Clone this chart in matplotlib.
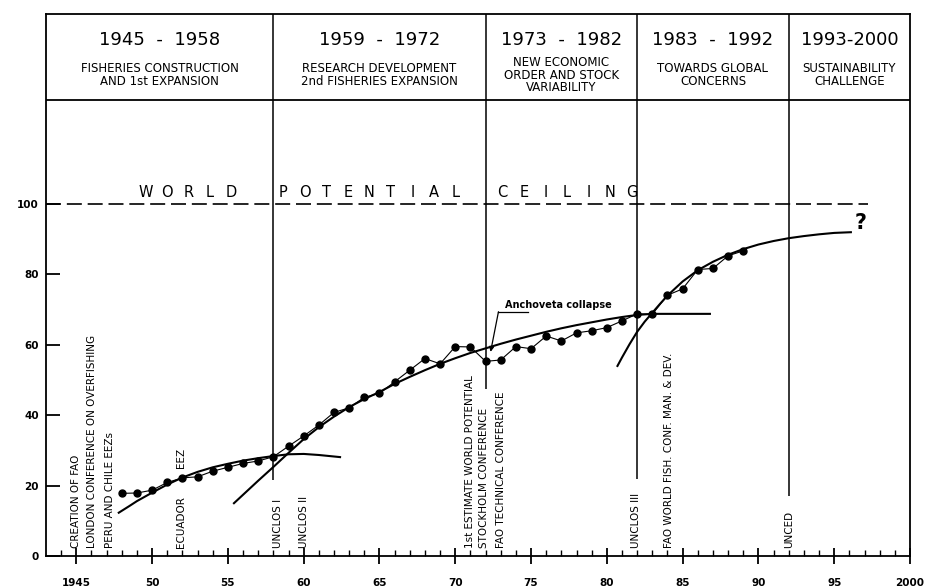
import matplotlib
matplotlib.use('Agg')
import matplotlib.pyplot as plt
from matplotlib import font_manager

# world fish catch (index), one point per year
years = list(range(1948, 1990))
catch = [17.8, 17.9, 18.7, 20.9, 22.2, 22.5, 24.1, 25.2, 26.3, 27.0,
         28.2, 31.2, 34.1, 37.2, 40.8, 42.1, 45.1, 46.2, 49.5, 52.8,
         56.1, 54.6, 59.5, 59.4, 55.3, 55.7, 59.5, 58.9, 62.5, 61.1,
         63.4, 64.0, 64.9, 66.8, 68.8, 68.7, 74.1, 75.9, 81.4, 81.7,
         85.3, 86.7]

# hand drawn trend curves for each expansion phase
trend1_x = [1947.8, 1948.5, 1949, 1950, 1951, 1952, 1953, 1954, 1955, 1956,
            1957, 1958, 1959, 1960, 1961, 1962.4]
trend1_y = [12.3, 14.2, 15.6, 18.0, 20.3, 22.3, 23.9, 25.2, 26.2, 27.1,
            27.8, 28.4, 28.9, 29.0, 28.7, 28.1]

trend2_x = [1955.4, 1956, 1957, 1958, 1959, 1960, 1961, 1962, 1963, 1964,
            1965, 1966, 1967, 1968, 1969, 1970, 1971, 1972, 1973, 1974,
            1975, 1976, 1977, 1978, 1979, 1980, 1981, 1982, 1983, 1986.8]
trend2_y = [15.0, 17.4, 21.4, 25.3, 29.3, 33.2, 36.6, 39.6, 42.3, 44.6,
            46.6, 48.9, 50.9, 52.8, 54.6, 56.2, 57.7, 59.0, 60.3, 61.5,
            62.6, 63.7, 64.7, 65.6, 66.4, 67.2, 67.9, 68.5, 68.8, 68.8]

trend3_x = [1980.7, 1981, 1981.5, 1982, 1982.5, 1983, 1983.5, 1984, 1985, 1986,
            1987, 1988, 1989, 1990, 1991, 1992, 1993, 1994, 1995, 1996.1]
trend3_y = [54.0, 56.4, 60.2, 63.7, 66.6, 69.1, 71.6, 74.0, 78.0, 81.2,
            83.6, 85.6, 87.2, 88.5, 89.5, 90.3, 90.9, 91.4, 91.8, 92.0]

ceiling = 100

# period boxes on top
periods = [1943, 1958, 1972, 1982, 1992, 2000]
period_titles = ['1945  -  1958', '1959  -  1972', '1973  -  1982', '1983  -  1992', '1993-2000']
period_texts = ['FISHERIES CONSTRUCTION\nAND 1st EXPANSION',
                'RESEARCH DEVELOPMENT\n2nd FISHERIES EXPANSION',
                'NEW ECONOMIC\nORDER AND STOCK\nVARIABILITY',
                'TOWARDS GLOBAL\nCONCERNS',
                'SUSTAINABILITY\nCHALLENGE']
# how far down each period divider reaches
divider_end = [21.6, 47.5, 22.0, 17.0]

# events written along the time axis
event_years = [1945, 1946.05, 1947.2, 1951.9, 1958.3, 1960, 1971, 1971.9, 1973.0,
               1981.9, 1984.1, 1992]
event_labels = ['CREATION OF FAO', 'LONDON CONFERENCE ON OVERFISHING',
                'PERU AND CHILE EEZs', 'ECUADOR', 'UNCLOS I', 'UNCLOS II',
                '1st ESTIMATE WORLD POTENTIAL', 'STOCKHOLM CONFERENCE',
                'FAO TECHNICAL CONFERENCE', 'UNCLOS III',
                'FAO WORLD FISH. CONF. MAN. & DEV.', 'UNCED']

xticks = list(range(1945, 2001, 5))
xticklabels = ['1945', '50', '55', '60', '65', '70', '75', '80', '85', '90', '95', '2000']
yticks = [0, 20, 40, 60, 80, 100]

names = {f.name for f in font_manager.fontManager.ttflist}
narrow = 'Liberation Sans Narrow' if 'Liberation Sans Narrow' in names else 'DejaVu Sans'

fig = plt.figure(figsize=(9.32, 5.87), dpi=100)
ax = fig.add_axes([46 / 932, 31 / 587, 864 / 932, 542 / 587])
ax.set_xlim(1943, 2000)
ax.set_ylim(0, 154)

for s in ax.spines.values():
    s.set_linewidth(1.3)

# header
ax.axhline(129.5, color='black', lw=1.3)
for i in range(len(period_titles)):
    cx = (periods[i] + periods[i + 1]) / 2
    ax.text(cx, 146.6, period_titles[i], ha='center', va='center', fontsize=13)
    ax.text(cx, 136.6, period_texts[i], ha='center', va='center', fontsize=8.5,
            linespacing=0.95)
for i in range(1, 5):
    ax.vlines(periods[i], divider_end[i - 1], 154, color='black', lw=1.1)

# potential ceiling
ax.plot([1943, 1997.2], [ceiling, ceiling], color='black', lw=1.2,
        linestyle=(0, (9, 3.5)))
words = [('WORLD', 1949.55), ('POTENTIAL', 1958.66), ('CEILING', 1973.1)]
for w, x0 in words:
    for k, ch in enumerate(w):
        ax.text(x0 + k * 1.42, ceiling + 2.1, ch, ha='center', va='baseline',
                fontsize=10.5)

# catch and trends
ax.plot(trend1_x, trend1_y, color='black', lw=1.5)
ax.plot(trend2_x, trend2_y, color='black', lw=1.5)
ax.plot(trend3_x, trend3_y, color='black', lw=1.5)
ax.plot(years, catch, color='black', lw=0.8, marker='o', markersize=5)
ax.text(1996.75, 94.6, '?', ha='center', va='center', fontsize=15, fontweight='bold')

# anchoveta note
ax.text(1973.3, 71.3, 'Anchoveta collapse', ha='left', va='center', fontsize=7,
        fontweight='bold', family=narrow)
ax.plot([1972.85, 1974.8], [69.4, 69.4], color='black', lw=0.9)
ax.annotate('', xy=(1972.33, 58.0), xytext=(1972.85, 69.4),
            arrowprops=dict(arrowstyle='-|>', color='black', lw=0.9,
                            mutation_scale=7, shrinkA=0, shrinkB=0))

# event labels
for x, lab in zip(event_years, event_labels):
    ax.text(x, 2.2, lab, rotation=90, ha='center', va='bottom', fontsize=7.5,
            family=narrow)
ax.text(1951.9, 25.0, 'EEZ', rotation=90, ha='center', va='bottom', fontsize=7.5,
        family=narrow)

# axes ticks
ax.set_yticks(yticks)
ax.set_yticklabels([str(v) for v in yticks], fontweight='bold')
ax.tick_params(axis='y', direction='in', length=10, width=1.3, pad=5, labelsize=7.5)
ax.set_xticks(xticks)
ax.set_xticklabels(xticklabels, fontweight='bold')
ax.set_xticks(range(1944, 2000), minor=True)
ax.tick_params(axis='x', which='major', direction='inout', length=11, width=1.3,
               pad=10, labelsize=7.5)
ax.tick_params(axis='x', which='minor', direction='in', length=4, width=1.0)

fig.savefig('out.png', dpi=100)
